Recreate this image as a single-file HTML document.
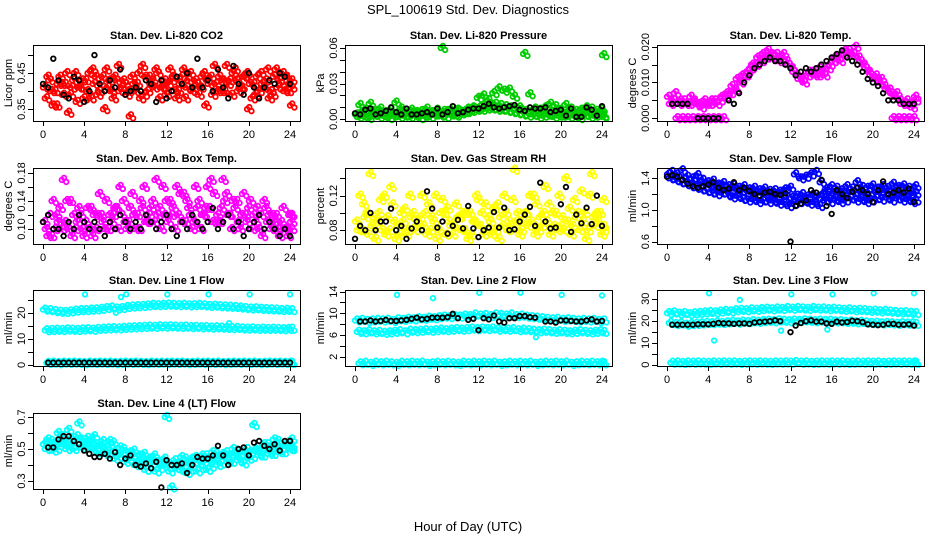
<!DOCTYPE html>
<html><head><meta charset="utf-8"><title>SPL_100619 Std. Dev. Diagnostics</title>
<style>
html,body{margin:0;padding:0;background:#fff;}
svg{display:block;font-family:"Liberation Sans",Arial,sans-serif;}
</style></head>
<body>
<svg id="chart" width="936" height="540" viewBox="0 0 936 540" xmlns="http://www.w3.org/2000/svg">
<rect x="0" y="0" width="936" height="540" fill="#fff"/>
<text x="468" y="14" text-anchor="middle" font-size="13">SPL_100619  Std. Dev. Diagnostics</text>
<text x="468" y="531" text-anchor="middle" font-size="13">Hour of Day (UTC)</text>
<g id="plots"></g>
</svg>
<script>
const xTicks = [0,4,8,12,16,20,24];
// CO2
const co2A=[0.41,0.43,0.40,0.44,0.42,0.39,0.45,0.41,0.43,0.38,0.44,0.42,0.46,0.40,0.43,0.41,0.39,0.44,0.42,0.47,0.40,0.43,0.45,0.41,0.42,0.44,0.40,0.46,0.43,0.41,0.39,0.45,0.42,0.47,0.44,0.40,0.43,0.46,0.41,0.44,0.42,0.39,0.45,0.43,0.40,0.46,0.42,0.44,0.41];
const co2B=[0.38,0.40,0.36,0.42,0.45,0.41,0.37,0.43,0.40,0.46,0.39,0.44,0.41,0.38,0.47,0.43,0.40,0.42,0.45,0.39,0.44,0.41,0.38,0.43,0.46,0.40,0.42,0.38,0.45,0.43,0.41,0.36,0.44,0.42,0.40,0.47,0.39,0.43,0.41,0.45,0.38,0.44,0.42,0.46,0.39,0.41,0.45,0.40,0.43];
const co2C=[0.44,0.36,0.42,0.39,0.34,0.43,0.41,0.38,0.45,0.42,0.40,0.35,0.43,0.44,0.40,0.42,0.33,0.40,0.38,0.44,0.42,0.46,0.41,0.39,0.43,0.38,0.44,0.41,0.40,0.42,0.44,0.43,0.39,0.40,0.43,0.42,0.45,0.40,0.44,0.35,0.42,0.40,0.41,0.38,0.44,0.43,0.40,0.42,0.36];
const co2K=[0.42,0.41,0.49,0.43,0.39,0.38,0.44,0.43,0.37,0.40,0.50,0.42,0.40,0.43,0.41,0.46,0.39,0.40,0.41,0.40,0.43,0.42,0.37,0.43,0.38,0.40,0.44,0.42,0.45,0.41,0.49,0.41,0.43,0.40,0.46,0.41,0.38,0.47,0.42,0.39,0.45,0.41,0.38,0.41,0.43,0.42,0.45,0.44,0.42];
// Pressure
const pA=[0.004,0.006,0.003,0.007,0.005,0.004,0.006,0.003,0.005,0.007,0.004,0.006,0.005,0.003,0.006,0.004,0.005,0.007,0.006,0.004,0.007,0.006,0.008,0.009,0.010,0.011,0.012,0.013,0.012,0.011,0.010,0.009,0.008,0.007,0.006,0.005,0.007,0.004,0.006,0.005,0.003,0.006,0.004,0.005,0.007,0.006,0.004,0.005,0.003];
const pB=[0.002,0.003,0.001,0.004,0.002,0.003,0.001,0.004,0.002,0.003,0.002,0.004,0.001,0.003,0.002,0.004,0.003,0.002,0.004,0.003,0.005,0.006,0.007,0.008,0.008,0.009,0.009,0.008,0.008,0.007,0.006,0.005,0.004,0.003,0.004,0.002,0.003,0.004,0.002,0.003,0.004,0.002,0.003,0.001,0.004,0.002,0.003,0.004,0.002];
const pC=[0.012,0.008,0.013,0.007,0.009,0.006,0.008,0.014,0.009,0.007,0.008,0.006,0.007,0.009,0.006,0.008,0.060,0.007,0.009,0.008,0.006,0.009,0.010,0.018,0.020,0.016,0.022,0.026,0.024,0.025,0.019,0.010,0.055,0.021,0.009,0.008,0.010,0.013,0.011,0.008,0.012,0.009,0.007,0.008,0.010,0.009,0.007,0.008,0.054];
const pK=[0.005,0.004,0.008,0.009,0.004,0.005,0.007,0.010,0.006,0.004,0.009,0.004,0.004,0.005,0.006,0.004,0.009,0.004,0.006,0.011,0.005,0.006,0.008,0.009,0.009,0.011,0.013,0.010,0.009,0.010,0.011,0.012,0.008,0.007,0.010,0.009,0.009,0.010,0.006,0.007,0.008,0.003,0.009,0.002,0.002,0.010,0.008,0.003,0.011];
// Temp
const tA=[0.006,0.005,0.004,0.005,0.004,0.005,0.004,0.005,0.004,0.005,0.005,0.006,0.007,0.008,0.010,0.012,0.014,0.015,0.016,0.017,0.018,0.018,0.017,0.016,0.014,0.012,0.011,0.012,0.013,0.012,0.013,0.014,0.016,0.017,0.018,0.019,0.018,0.017,0.015,0.013,0.011,0.010,0.009,0.008,0.006,0.005,0.004,0.004,0.005];
const tB=[0.004,0.007,0.005,0.004,0.006,0.004,0.003,0.004,0.005,0.004,0.006,0.007,0.009,0.011,0.012,0.013,0.015,0.017,0.018,0.019,0.017,0.016,0.018,0.015,0.013,0.011,0.010,0.013,0.012,0.014,0.012,0.015,0.017,0.016,0.019,0.018,0.020,0.016,0.014,0.012,0.012,0.011,0.008,0.007,0.007,0.004,0.005,0.003,0.006];
const tZ=[null,0,0,0,0,0,0,0,0,0,0,null,null,null,null,null,null,null,null,null,null,null,null,null,null,null,null,null,null,null,null,null,null,null,null,null,null,null,null,null,null,null,null,0,0,0,0,0,null];
const tK=[null,0.004,0.004,0.004,0.004,null,0,0,0,0,0,null,0.005,0.004,0.007,0.010,0.012,0.014,0.015,0.016,0.017,0.016,0.016,0.015,0.014,0.012,0.013,0.014,0.013,0.014,0.015,0.016,0.017,0.018,0.019,0.017,0.016,0.015,0.013,0.011,0.010,0.009,0.007,0.005,0.005,0.005,0.004,0.004,0.004];
// Amb box temp
const aA=[0.11,0.12,0.10,0.13,0.11,0.14,0.10,0.12,0.11,0.13,0.10,0.12,0.14,0.11,0.13,0.12,0.10,0.15,0.12,0.13,0.11,0.14,0.12,0.16,0.11,0.13,0.12,0.15,0.13,0.11,0.14,0.12,0.13,0.15,0.11,0.14,0.12,0.13,0.10,0.12,0.14,0.11,0.12,0.13,0.10,0.12,0.11,0.10,0.12];
const aB=[0.10,0.09,0.12,0.10,0.14,0.09,0.11,0.10,0.13,0.09,0.12,0.11,0.10,0.12,0.10,0.14,0.11,0.12,0.10,0.16,0.12,0.11,0.13,0.12,0.14,0.10,0.15,0.11,0.12,0.16,0.10,0.13,0.17,0.11,0.13,0.15,0.10,0.14,0.12,0.11,0.10,0.13,0.09,0.11,0.12,0.10,0.13,0.09,0.10];
const aC=[0.09,0.14,0.11,0.17,0.10,0.12,0.13,0.09,0.10,0.12,0.15,0.10,0.12,0.13,0.16,0.11,0.13,0.10,0.14,0.11,0.13,0.17,0.10,0.14,0.12,0.16,0.11,0.14,0.10,0.13,0.12,0.16,0.11,0.12,0.17,0.12,0.14,0.11,0.15,0.13,0.12,0.10,0.14,0.12,0.11,0.09,0.10,0.12,0.11];
const aK=[0.11,0.12,0.10,0.10,0.09,0.11,0.10,0.12,0.11,0.10,0.11,0.10,0.09,0.11,0.10,0.12,0.11,0.10,0.11,0.10,0.12,0.11,0.10,0.11,0.12,0.10,0.09,0.11,0.10,0.12,0.11,0.10,0.11,0.13,0.10,0.11,0.12,0.10,0.11,0.09,0.10,0.11,0.12,0.10,0.11,0.10,0.09,0.10,0.09];
// RH
const rA=[0.09,0.08,0.10,0.085,0.09,0.08,0.095,0.11,0.085,0.09,0.08,0.10,0.09,0.085,0.11,0.09,0.08,0.10,0.09,0.085,0.095,0.08,0.10,0.09,0.085,0.11,0.09,0.08,0.095,0.10,0.085,0.09,0.08,0.10,0.09,0.11,0.085,0.09,0.10,0.08,0.095,0.09,0.085,0.10,0.09,0.08,0.095,0.09,0.085];
const rB=[0.08,0.11,0.075,0.095,0.10,0.12,0.08,0.09,0.075,0.105,0.12,0.08,0.095,0.10,0.08,0.12,0.10,0.075,0.085,0.11,0.08,0.10,0.075,0.12,0.10,0.08,0.075,0.11,0.085,0.08,0.115,0.10,0.09,0.085,0.12,0.08,0.10,0.11,0.085,0.12,0.08,0.105,0.115,0.08,0.10,0.12,0.085,0.10,0.115];
const rC=[0.12,0.095,0.145,0.07,0.115,0.075,0.13,0.07,0.10,0.075,0.095,0.085,0.12,0.075,0.095,0.07,0.115,0.105,0.075,0.095,0.10,0.07,0.09,0.115,0.075,0.095,0.105,0.07,0.12,0.09,0.15,0.075,0.10,0.12,0.075,0.095,0.13,0.075,0.10,0.085,0.14,0.075,0.095,0.125,0.07,0.145,0.10,0.075,0.08];
const rK=[0.07,0.085,0.08,0.10,0.08,0.09,0.09,0.105,0.08,0.085,0.07,0.082,0.09,0.08,0.125,0.105,0.083,0.09,0.076,0.085,0.092,0.082,0.108,0.082,0.072,0.08,0.083,0.101,0.083,0.106,0.08,0.081,0.09,0.098,0.107,0.085,0.135,0.09,0.082,0.083,0.11,0.13,0.078,0.098,0.088,0.106,0.087,0.12,0.085];
// Sample flow
const sA=[1.45,1.42,1.40,1.38,1.36,1.35,1.33,1.30,1.32,1.28,1.30,1.27,1.25,1.27,1.24,1.22,1.23,1.20,1.22,1.19,1.20,1.18,1.19,1.17,1.15,1.18,1.20,1.17,1.19,1.16,1.20,1.18,1.21,1.19,1.22,1.20,1.23,1.21,1.19,1.22,1.20,1.24,1.22,1.21,1.23,1.20,1.22,1.19,1.21];
const sB=[1.40,1.38,1.35,1.33,1.30,1.28,1.26,1.24,1.22,1.20,1.22,1.20,1.16,1.18,1.14,1.12,1.14,1.10,1.12,1.10,1.12,1.08,1.10,1.05,1.08,1.10,1.12,1.08,1.10,1.05,1.12,1.10,1.14,1.10,1.12,1.15,1.12,1.14,1.10,1.12,1.15,1.13,1.16,1.12,1.15,1.12,1.14,1.10,1.12];
const sC=[1.48,1.45,1.50,1.42,1.40,1.44,1.38,1.35,1.37,1.32,1.34,1.30,1.31,1.28,1.30,1.26,1.28,1.25,1.27,1.24,1.25,1.23,1.26,1.28,1.45,1.40,1.42,1.45,1.48,1.35,1.26,1.30,1.28,1.25,1.30,1.27,1.35,1.29,1.28,1.31,1.27,1.30,1.28,1.33,1.29,1.31,1.28,1.26,1.30];
const sK=[1.42,1.44,1.42,1.38,1.33,1.30,1.28,1.30,1.32,1.35,1.28,1.25,1.27,1.35,1.25,1.28,1.24,1.20,1.18,1.22,1.23,1.20,1.19,1.21,0.60,1.05,1.08,1.12,1.25,1.22,1.38,1.05,0.95,1.25,1.20,1.15,1.23,1.28,1.25,1.20,1.10,1.25,1.36,1.20,1.22,1.25,1.22,1.27,1.10];
// Line 1
const l1A=[21.2,21.0,20.6,20.4,20.3,20.5,20.8,21.0,21.0,21.2,21.3,21.5,21.8,22.0,21.6,21.8,22.2,22.4,22.5,22.6,22.8,23.0,22.9,23.0,23.1,23.0,22.9,23.0,22.8,22.9,23.0,22.8,22.6,22.7,22.5,22.4,22.3,22.2,22.0,21.8,21.6,21.7,21.5,21.4,21.3,21.2,21.0,21.1,21.0];
const l1B=[13.3,13.4,13.5,13.4,13.6,13.5,13.4,13.6,13.7,13.5,13.8,13.9,14.0,14.1,14.0,14.2,14.3,14.4,14.5,14.6,14.7,14.6,14.8,14.7,14.8,14.7,14.6,14.7,14.5,14.6,14.4,14.5,14.3,14.4,14.3,14.2,14.1,14.2,14.0,13.9,14.0,13.8,13.9,13.8,13.9,13.8,13.7,13.8,13.9];
const l1C=[0.8,0.9,0.7,0.9,0.8,0.9,0.8,0.7,0.9,0.8,0.9,0.8,0.9,0.7,0.8,0.9,0.8,0.9,0.8,0.7,0.9,0.8,0.9,0.8,0.9,0.8,0.9,0.7,0.8,0.9,0.8,0.9,0.8,0.9,0.7,0.8,0.9,0.8,0.9,0.8,0.9,0.7,0.8,0.9,0.8,0.9,0.8,0.9,0.8];
const l1D=[null,null,null,null,null,null,null,null,27,null,null,null,null,null,20,26,27,null,null,null,null,null,null,null,27,null,null,null,null,null,null,null,27,null,null,null,16,null,22,null,27,null,null,null,null,null,null,null,27];
const l1K=[null,0.9,0.9,0.9,0.9,0.9,0.9,0.9,0.9,0.9,0.9,0.9,0.9,0.9,0.9,0.9,0.9,0.9,0.9,0.9,0.9,0.9,0.9,0.9,0.9,0.9,0.9,0.9,0.9,0.9,0.9,0.9,0.9,0.9,0.9,0.9,0.9,0.9,0.9,0.9,0.9,0.9,0.9,0.9,0.9,0.9,0.9,0.9,0.9];
// Line 2
const l2A=[8.7,8.8,8.6,8.7,8.8,8.7,8.8,8.6,8.9,8.8,9.0,8.9,9.1,9.0,9.2,9.1,9.3,9.4,9.3,9.5,9.4,9.6,9.5,9.8,9.6,9.7,9.5,9.8,9.7,9.6,9.8,9.5,9.6,9.4,9.3,9.2,9.1,9.0,8.9,9.0,8.8,8.9,8.8,8.7,8.8,8.7,8.8,8.6,8.7];
const l2B=[6.6,6.5,6.7,6.5,6.6,6.4,6.5,6.6,6.7,6.5,6.8,6.7,6.8,6.9,6.8,6.9,7.0,6.9,7.0,7.1,7.0,7.1,7.2,7.1,7.2,7.1,7.2,7.0,7.1,7.0,7.1,6.9,7.0,6.9,6.8,6.7,6.8,6.7,6.6,6.7,6.6,6.5,6.6,6.7,6.6,6.5,6.6,6.7,6.6];
const l2C=[0.8,0.9,0.7,0.9,0.8,0.9,0.8,0.7,0.9,0.8,0.9,0.8,0.9,0.7,0.8,0.9,0.8,0.9,0.8,0.7,0.9,0.8,0.9,0.8,0.9,0.8,0.9,0.7,0.8,0.9,0.8,0.9,0.8,0.9,0.7,0.8,0.9,0.8,0.9,0.8,0.9,0.7,0.8,0.9,0.8,0.9,0.8,0.9,0.8];
const l2D=[null,null,null,null,null,null,null,null,13.4,null,null,null,null,null,null,12.8,null,null,null,null,null,null,null,null,13.8,null,null,null,null,null,null,null,13.8,null,null,5.6,null,null,null,null,13.4,null,null,null,null,null,null,null,13.3];
const l2K=[null,8.5,8.5,8.7,8.5,8.6,8.8,8.6,8.6,8.7,8.8,9.0,9.2,8.9,9.0,9.2,9.2,9.2,9.3,9.9,9.1,null,8.8,9.0,6.9,9.1,8.9,9.6,8.5,8.3,9.1,9.1,9.5,9.5,9.3,9.2,null,8.5,8.5,8.3,8.7,8.7,8.6,8.5,8.5,8.7,8.9,8.5,8.6];
// Line 3
const l3A=[23.5,23.8,23.2,23.5,23.0,23.4,23.6,23.8,24.0,23.8,24.2,24.5,24.3,24.8,25.0,24.8,25.2,25.0,25.3,25.5,25.2,25.6,25.4,25.8,25.5,25.8,25.6,25.4,25.8,25.5,25.6,25.3,25.5,25.2,25.0,25.2,24.8,25.0,24.8,24.5,24.6,24.3,24.5,24.2,24.0,23.8,23.9,23.6,23.5];
const l3B=[19.0,18.5,18.8,18.2,18.5,18.6,18.8,19.0,18.9,19.2,19.0,19.3,19.5,19.2,19.6,19.4,19.8,19.5,19.9,20.0,19.8,20.2,20.0,19.8,20.1,19.9,20.2,20.0,19.8,20.1,19.9,20.0,19.7,19.8,19.5,19.6,19.3,19.5,19.2,19.0,19.1,18.8,19.0,18.8,18.6,18.9,18.7,18.8,18.6];
const l3C=[0.9,1.0,0.8,1.0,0.9,1.0,0.9,0.8,1.0,0.9,1.0,0.9,1.0,0.8,0.9,1.0,0.9,1.0,0.9,0.8,1.0,0.9,1.0,0.9,1.2,0.9,1.0,0.8,0.9,1.0,0.9,1.0,0.9,1.0,0.8,0.9,1.0,0.9,1.0,0.9,1.0,0.8,0.9,1.0,0.9,1.0,0.9,1.0,0.9];
const l3D=[null,null,null,null,null,null,null,null,32.5,11,null,null,null,null,29.5,null,null,null,null,null,null,null,15.5,null,32,null,null,null,null,null,null,16,32,null,null,null,null,null,null,null,32.5,null,null,null,null,null,null,null,32.5];
const l3K=[null,18.2,18.2,18.2,18.2,18.2,18.4,18.4,18.4,18.6,19.0,18.8,18.8,18.6,18.8,18.8,18.6,19.2,19.4,19.6,19.8,20.2,19.8,null,14.8,17.8,19.0,19.8,20.2,19.6,19.6,18.8,18.6,19.6,19.2,19.4,20.0,19.8,19.4,18.4,18.2,18.0,18.2,18.6,18.6,18.2,18.2,18.4,17.8];
// Line 4
const l4A=[0.53,0.52,0.54,0.55,0.54,0.56,0.55,0.56,0.54,0.55,0.53,0.52,0.51,0.50,0.49,0.48,0.47,0.46,0.45,0.44,0.43,0.43,0.42,0.41,0.41,0.40,0.41,0.40,0.41,0.42,0.41,0.42,0.43,0.44,0.44,0.45,0.46,0.46,0.47,0.48,0.48,0.49,0.50,0.50,0.51,0.52,0.51,0.52,0.52];
const l4B=[0.50,0.55,0.50,0.58,0.50,0.52,0.58,0.51,0.57,0.50,0.48,0.55,0.47,0.54,0.45,0.50,0.43,0.49,0.41,0.47,0.39,0.46,0.38,0.44,0.36,0.43,0.37,0.44,0.37,0.45,0.38,0.46,0.39,0.47,0.41,0.48,0.42,0.49,0.44,0.50,0.45,0.51,0.46,0.53,0.47,0.55,0.48,0.54,0.50];
const l4C=[0.56,0.49,0.60,0.53,0.62,0.50,0.66,0.52,0.52,0.58,0.52,0.47,0.55,0.44,0.51,0.42,0.48,0.40,0.46,0.37,0.44,0.36,0.42,0.70,0.26,0.38,0.45,0.35,0.44,0.36,0.46,0.37,0.48,0.40,0.47,0.42,0.50,0.43,0.41,0.44,0.65,0.46,0.53,0.47,0.56,0.48,0.52,0.50,0.56];
const l4K=[null,0.51,0.51,0.56,0.58,0.58,0.55,0.53,0.49,0.47,0.45,0.45,0.47,0.44,0.48,0.40,0.44,0.46,0.40,0.39,0.41,0.38,0.42,0.26,0.43,0.40,0.40,0.41,0.35,0.40,0.45,0.44,0.44,0.46,0.52,0.46,0.40,null,0.50,0.51,0.46,0.54,0.55,0.52,0.50,0.53,0.49,0.55,0.55];

const NS='http://www.w3.org/2000/svg';
const root=document.getElementById('plots');
const colLeft=[33,345,657], rowTop=[45,168,290,413], PW=267, PH=76;
function el(tag,attrs,parent){const e=document.createElementNS(NS,tag);for(const k in attrs)e.setAttribute(k,attrs[k]);parent.appendChild(e);return e;}

const panels=[
 {key:'co2',title:'Stan. Dev. Li-820 CO2',ylab:'Licor ppm',c:0,r:0,ymin:0.317,ymax:0.528,ticks:[0.35,0.40,0.45,0.50],labels:[0.35,0.45],fmt:2,color:'#ff0000',series:[co2A,co2B,co2C],black:co2K},
 {key:'pressure',title:'Stan. Dev. Li-820 Pressure',ylab:'kPa',c:1,r:0,ymin:-0.0015,ymax:0.0625,ticks:[0,0.01,0.02,0.03,0.04,0.05,0.06],labels:[0,0.03,0.06],fmt:2,color:'#00cd00',series:[pA,pB,pC],black:pK},
 {key:'temp',title:'Stan. Dev. Li-820 Temp.',ylab:'degrees C',c:2,r:0,ymin:-0.0008,ymax:0.0205,ticks:[0,0.005,0.010,0.015,0.020],labels:[0,0.010,0.020],fmt:3,color:'#ff00ff',series:[tA,tB,tZ],black:tK},
 {key:'ambbox',title:'Stan. Dev. Amb. Box Temp.',ylab:'degrees C',c:0,r:1,ymin:0.0786,ymax:0.187,ticks:[0.10,0.12,0.14,0.16,0.18],labels:[0.10,0.14,0.18],fmt:2,color:'#ff00ff',series:[aA,aB,aC],black:aK},
 {key:'rh',title:'Stan. Dev. Gas Stream RH',ylab:'percent',c:1,r:1,ymin:0.064,ymax:0.152,ticks:[0.08,0.10,0.12,0.14],labels:[0.08,0.12],fmt:2,color:'#ffff00',series:[rA,rB,rC],black:rK},
 {key:'sampleflow',title:'Stan. Dev. Sample Flow',ylab:'ml/min',c:2,r:1,ymin:0.57,ymax:1.53,ticks:[0.6,0.8,1.0,1.2,1.4],labels:[0.6,1.0,1.4],fmt:1,color:'#0000ff',series:[sA,sB,sC],black:sK},
 {key:'line1',title:'Stan. Dev. Line 1 Flow',ylab:'ml/min',c:0,r:2,ymin:-0.4,ymax:28.7,ticks:[0,5,10,15,20,25],labels:[0,10,20],fmt:0,color:'#00ffff',series:[l1A,l1B,l1C,l1D],black:l1K},
 {key:'line2',title:'Stan. Dev. Line 2 Flow',ylab:'ml/min',c:1,r:2,ymin:0.3,ymax:14.3,ticks:[2,4,6,8,10,12,14],labels:[2,6,10,14],fmt:0,color:'#00ffff',series:[l2A,l2B,l2C,l2D],black:l2K},
 {key:'line3',title:'Stan. Dev. Line 3 Flow',ylab:'ml/min',c:2,r:2,ymin:-0.6,ymax:34,ticks:[0,5,10,15,20,25,30],labels:[0,10,20,30],fmt:0,color:'#00ffff',series:[l3A,l3B,l3C,l3D],black:l3K},
 {key:'line4',title:'Stan. Dev. Line 4 (LT) Flow',ylab:'ml/min',c:0,r:3,ymin:0.25,ymax:0.725,ticks:[0.3,0.4,0.5,0.6,0.7],labels:[0.3,0.5,0.7],fmt:1,color:'#00ffff',series:[l4A,l4B,l4C],black:l4K}
];
const offsets=[0.0,0.17,0.33,0.08];
// marker cluster layout (pixels): dx, dy per drawn copy
const clusterDX=[0,2.2,4.4], clusterDY=[0,-2,2];

panels.forEach(p=>{
  const L=colLeft[p.c], T=rowTop[p.r], B=T+PH, R=L+PW;
  const xs=v=>L+10+(v/24)*(PW-20);
  const ys=v=>B-(v-p.ymin)/(p.ymax-p.ymin)*PH;
  const g=el('g',{},root);
  
  
  const t=el('text',{x:L+PW/2,y:T-6,'text-anchor':'middle','font-size':'11','font-weight':'bold'},g);
  t.textContent=p.title;
  
  
  const yl=el('text',{x:0,y:0,'text-anchor':'middle','font-size':'11',transform:`translate(${L-21},${T+PH/2}) rotate(-90)`},g);
  yl.textContent=p.ylab;
  
  
  const pts=el('g',{fill:'none','stroke-width':'1.8'},g);
  
  
  p.series.forEach((arr,si)=>{
    arr.forEach((v,i)=>{
      if(v===null)return;
      const x=Math.min(i*0.5+offsets[si%offsets.length],24);
      const cx=xs(x), cy=ys(v);
      const isOutlierSeries = si===3;
      const n = isOutlierSeries ? 1 : clusterDX.length;
      for(let k=0;k<n;k++){
        const c=el('circle',{cx:Math.min(cx+clusterDX[k],R-2),cy:cy+clusterDY[k],r:2.3,stroke:p.color},pts);
        
        
      }
    });
  });
  p.black.forEach((v,i)=>{
    if(v===null)return;
    const c=el('circle',{cx:xs(i*0.5),cy:ys(v),r:2.3,stroke:'#000'},pts);
    
    
  });
  const bx=el('rect',{x:L+0.5,y:T+0.5,width:PW,height:PH,fill:'none',stroke:'#000','stroke-width':'1'},g);
  
  
  const xa=el('g',{stroke:'#000','stroke-width':'1'},g);
  
  
  el('line',{x1:xs(0),x2:xs(24),y1:B+0.5,y2:B+0.5},xa);
  xTicks.forEach(v=>{
    el('line',{x1:Math.round(xs(v))+0.5,x2:Math.round(xs(v))+0.5,y1:B,y2:B+5},xa);
    const tl=el('text',{x:xs(v),y:B+17,'text-anchor':'middle','font-size':'11',stroke:'none',fill:'#000'},xa);
    tl.textContent=v;
    
    
  });
  const ya=el('g',{stroke:'#000','stroke-width':'1'},g);
  
  
  const t0=p.ticks[0], t1=p.ticks[p.ticks.length-1];
  el('line',{x1:L+0.5,x2:L+0.5,y1:ys(t0),y2:ys(t1)},ya);
  p.ticks.forEach(v=>{
    const y=Math.round(ys(v))+0.5;
    el('line',{x1:L-5,x2:L,y1:y,y2:y},ya);
  });
  p.labels.forEach(v=>{
    const tl=el('text',{x:0,y:0,'text-anchor':'middle','font-size':'11',stroke:'none',fill:'#000',transform:`translate(${L-8},${ys(v)}) rotate(-90)`},ya);
    tl.textContent=v.toFixed(p.fmt);
    
    
  });
});
</script>
</body></html>
